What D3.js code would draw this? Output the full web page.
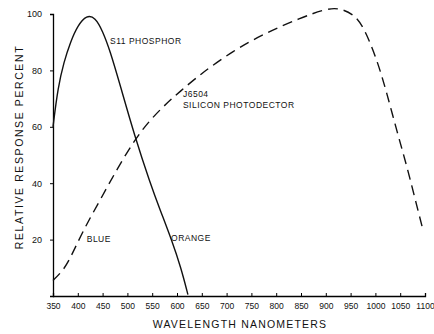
<!DOCTYPE html>
<html lang="en">
<head>
<meta charset="UTF-8">
<title>Relative response</title>
<script src="https://d3js.org/d3.v7.min.js"></script>
<style>
  body { margin: 0; background: #fff; }
  svg { font-family: "Liberation Sans", "DejaVu Sans", sans-serif; }
</style>
</head>
<body>
<svg></svg>
<script>
var width = 434, height = 334;

// S11 phosphor (solid)
var phosphorNm  = [350, 360, 372, 385, 400, 418, 435, 450, 465, 485, 515, 546, 566, 590, 608, 622];
var phosphorVal = [60, 74, 83, 90, 96, 99.6, 98.8, 94, 87, 75, 56.5, 40, 30.5, 19.5, 10, 0.5];

// J6504 silicon photodetector (dashed)
var siliconNm  = [350, 370, 384, 410, 445, 479, 515, 546, 580, 606, 646, 713, 781, 848, 902, 929, 955, 975, 1003, 1023, 1044, 1064, 1084, 1096];
var siliconVal = [5.5, 9, 13, 23, 34, 45, 55.5, 62.5, 68.5, 72.5, 78.5, 87, 93.5, 98.5, 102, 102, 100, 96, 84, 72, 58, 45.7, 31.6, 23.4];

var xTicks = [350, 400, 450, 500, 550, 600, 650, 700, 750, 800, 850, 900, 950, 1000, 1050, 1100];
var yTicks = [20, 40, 60, 80, 100];

var svg = d3.select("svg").attr("width", width).attr("height", height);

var x = d3.scaleLinear().domain([350, 1100]).range([53, 425]);
var y = d3.scaleLinear().domain([0, 100]).range([296, 14]);

var line = d3.line()
    .x(function (d) { return x(d[0]); })
    .y(function (d) { return y(d[1]); })
    .curve(d3.curveBasis);

// axes
var xAxis = d3.axisBottom(x).tickValues(xTicks).tickSize(-3).tickPadding(7)
    .tickFormat(function (d) { return d; });
var gx = svg.append("g").attr("transform", "translate(0," + y(0) + ")").call(xAxis);
gx.select(".domain").attr("stroke-width", 1.3);
gx.selectAll("text").attr("font-size", 8.5).attr("fill", "#111");

var yAxis = d3.axisLeft(y).tickValues(yTicks).tickSize(3).tickPadding(8);
var gy = svg.append("g").attr("transform", "translate(53,0)").call(yAxis);
gy.select(".domain").attr("stroke-width", 1.3);
gy.selectAll("text").attr("font-size", 9).attr("fill", "#111");

// curves
svg.append("path")
    .datum(d3.zip(phosphorNm, phosphorVal))
    .attr("d", line)
    .attr("fill", "none")
    .attr("stroke", "#111")
    .attr("stroke-width", 1.4);

svg.append("path")
    .datum(d3.zip(siliconNm, siliconVal))
    .attr("d", line)
    .attr("fill", "none")
    .attr("stroke", "#111")
    .attr("stroke-width", 1.4)
    .attr("stroke-dasharray", "10,6");

// labels
function label(tx, ty, s, size) {
  svg.append("text").attr("x", tx).attr("y", ty).attr("font-size", size || 8.5)
      .attr("letter-spacing", 0.5).attr("fill", "#111").text(s);
}
label(x(465), y(89.5), "S11 PHOSPHOR");
label(x(612), y(70.5), "J6504");
label(x(612), y(66.5), "SILICON PHOTODECTOR");
label(x(418), y(19), "BLUE");
label(x(588), y(19.5), "ORANGE");

svg.append("text")
    .attr("x", 240).attr("y", 328)
    .attr("text-anchor", "middle")
    .attr("font-size", 10.5).attr("letter-spacing", 1.2).attr("fill", "#111")
    .text("WAVELENGTH   NANOMETERS");

svg.append("text")
    .attr("transform", "translate(23,147) rotate(-90)")
    .attr("text-anchor", "middle")
    .attr("font-size", 10.5).attr("letter-spacing", 1.6).attr("fill", "#111")
    .text("RELATIVE   RESPONSE   PERCENT");
</script>
</body>
</html>
